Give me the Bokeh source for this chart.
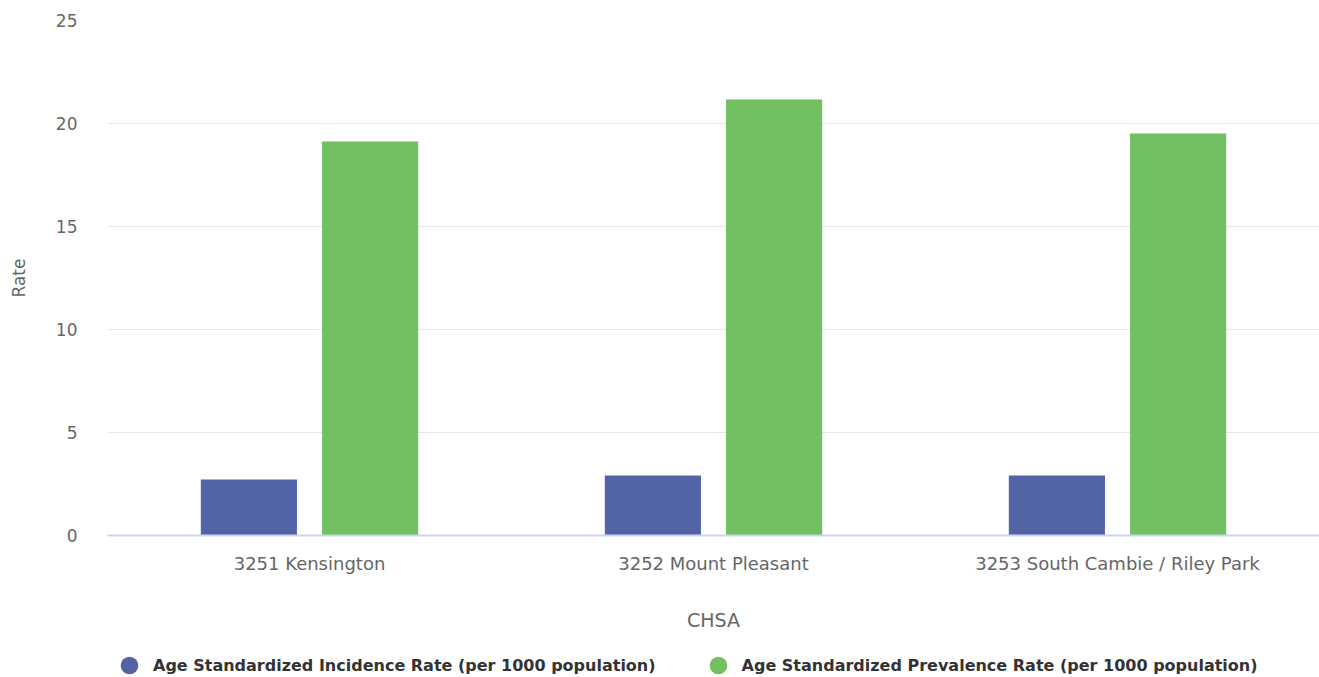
from bokeh.plotting import figure
from bokeh.layouts import column
from bokeh.models import ColumnDataSource, FactorRange, Range1d, Legend, LegendItem, FixedTicker
from bokeh.transform import dodge
from bokeh.embed import file_html
from bokeh.resources import INLINE

categories = ["3251 Kensington", "3252 Mount Pleasant", "3253 South Cambie / Riley Park"]
incidence = [2.72, 2.91, 2.91]
prevalence = [19.13, 21.17, 19.51]
series_names = ["Age Standardized Incidence Rate (per 1000 population)",
                "Age Standardized Prevalence Rate (per 1000 population)"]
y_ticks = [0, 5, 10, 15, 20, 25]

BLUE = "#5264a6"
GREEN = "#72c062"
FONT = "DejaVu Sans"

src = ColumnDataSource(dict(cat=categories, inc=incidence, prev=prevalence))

p = figure(x_range=FactorRange(*categories), y_range=Range1d(0, 25),
           width=1319, height=653, output_backend="svg", toolbar_location=None,
           min_border_left=107, min_border_right=0, min_border_top=20, min_border_bottom=118)
p.outline_line_color = None

p.vbar(x=dodge("cat", -0.15, range=p.x_range), top="inc", width=0.238,
       source=src, color=BLUE, line_color=None)
p.vbar(x=dodge("cat", 0.15, range=p.x_range), top="prev", width=0.238,
       source=src, color=GREEN, line_color=None)

p.xgrid.grid_line_color = None
p.ygrid.grid_line_color = "#e6e6e6"
p.ygrid.grid_line_width = 1
p.yaxis.ticker = FixedTicker(ticks=y_ticks)

p.yaxis.axis_line_color = None
p.yaxis.major_tick_line_color = None
p.yaxis.minor_tick_line_color = None
p.yaxis.major_label_standoff = 24
p.yaxis.major_label_text_font = FONT
p.yaxis.major_label_text_font_size = "17px"
p.yaxis.major_label_text_color = "#666666"
p.yaxis.axis_label = "Rate"
p.yaxis.axis_label_text_font = FONT
p.yaxis.axis_label_text_font_size = "17px"
p.yaxis.axis_label_text_font_style = "normal"
p.yaxis.axis_label_text_color = "#666666"
p.yaxis.axis_label_standoff = 24

p.xaxis.axis_line_color = "#ccd6eb"
p.xaxis.axis_line_width = 2
p.xaxis.major_tick_line_color = None
p.xaxis.minor_tick_line_color = None
p.xaxis.major_label_standoff = 11
p.xaxis.major_label_text_font = FONT
p.xaxis.major_label_text_font_size = "18px"
p.xaxis.major_label_text_color = "#666666"
p.xaxis.axis_label = "CHSA"
p.xaxis.axis_label_text_font = FONT
p.xaxis.axis_label_text_font_size = "19px"
p.xaxis.axis_label_text_font_style = "normal"
p.xaxis.axis_label_text_color = "#666666"
p.xaxis.axis_label_standoff = 32

# separate strip holding the legend below the chart (its frame aligns with the chart's)
lg = figure(width=1319, height=24, output_backend="svg", toolbar_location=None,
            x_range=Range1d(0, 1), y_range=Range1d(0, 1),
            x_axis_location=None, y_axis_location=None,
            min_border_left=0, min_border_right=0, min_border_top=0, min_border_bottom=0)
lg.outline_line_color = None
lg.grid.visible = False
e1 = lg.circle(x=[-10], y=[-10], radius=0.01, color=BLUE, line_color=None)
e2 = lg.circle(x=[-10], y=[-10], radius=0.01, color=GREEN, line_color=None)

legend = Legend(items=[LegendItem(label=series_names[0], renderers=[e1]),
                       LegendItem(label=series_names[1], renderers=[e2])],
                orientation="horizontal", location=(0, -10),
                border_line_color=None, background_fill_alpha=0,
                label_text_font=FONT, label_text_font_size="16px",
                label_text_font_style="bold",
                label_text_color="#333333", spacing=40, glyph_width=44, glyph_height=44,
                label_standoff=2, padding=0, margin=0)
lg.add_layout(legend, "center")

layout = column(p, lg, spacing=0)
open("out.html", "w").write(file_html(layout, INLINE))
